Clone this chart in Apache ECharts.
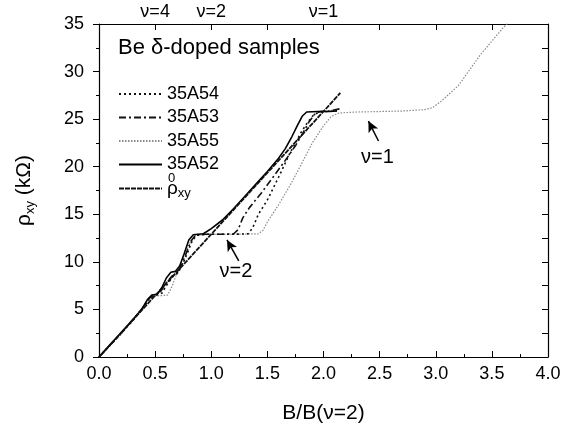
<!DOCTYPE html>
<html>
<head>
<meta charset="utf-8">
<script src="https://cdn.jsdelivr.net/npm/echarts@6/dist/echarts.min.js"></script>
<style>html,body{margin:0;padding:0;background:#fff}#c{width:569px;height:429px}</style>
</head>
<body>
<div id="c"></div>
<script>
// ---- data (B/B(nu=2), rho_xy in kOhm) ----
const s35A54 = [[0,0],[0.15,1.9],[0.3,3.8],[0.4,5.3],[0.45,6.2],[0.5,6.45],[0.56,6.7],[0.6,7.5],[0.66,8.5],[0.7,8.8],[0.74,9.6],[0.79,11.0],[0.83,12.2],[0.87,12.8],[0.95,12.9],[1.2,12.9],[1.33,12.95],[1.37,13.6],[1.42,15.0],[1.5,16.5],[1.6,18.9],[1.7,21.4],[1.8,23.6],[1.86,24.7],[1.91,25.4],[1.96,25.75],[2.03,25.8],[2.12,25.9]];
const s35A53 = [[0,0],[0.15,1.9],[0.3,3.9],[0.4,5.3],[0.45,6.2],[0.5,6.5],[0.55,6.9],[0.6,7.8],[0.65,8.5],[0.7,8.9],[0.74,9.8],[0.78,11.0],[0.82,12.2],[0.86,12.8],[0.95,12.9],[1.1,12.9],[1.2,12.95],[1.24,13.4],[1.28,14.6],[1.34,15.7],[1.45,17.3],[1.55,18.9],[1.65,20.5],[1.75,22.2],[1.82,23.6],[1.87,24.7],[1.92,25.5],[1.97,25.8],[2.05,25.85],[2.15,26.1]];
const s35A55 = [[0,0],[0.2,2.4],[0.4,5.4],[0.46,6.4],[0.55,6.45],[0.61,6.5],[0.65,7.4],[0.7,9.0],[0.76,10.7],[0.81,12.0],[0.86,12.8],[1.0,12.9],[1.2,12.9],[1.42,12.95],[1.46,13.3],[1.5,14.2],[1.6,16.0],[1.7,18.0],[1.8,20.2],[1.9,22.5],[2.0,24.3],[2.07,25.3],[2.14,25.65],[2.3,25.75],[2.5,25.8],[2.7,25.85],[2.9,26.0],[2.97,26.2],[3.05,26.9],[3.2,28.5],[3.4,31.8],[3.6,34.6],[3.66,35.3]];
const s35A52 = [[0,0],[0.1,1.3],[0.2,2.6],[0.3,3.9],[0.38,5.0],[0.43,6.0],[0.47,6.5],[0.52,6.6],[0.56,7.3],[0.6,8.3],[0.64,8.9],[0.68,9.0],[0.72,9.6],[0.76,10.9],[0.8,12.3],[0.84,12.85],[0.88,12.9],[0.93,12.95],[1.0,13.5],[1.1,14.4],[1.2,15.6],[1.3,16.9],[1.4,18.2],[1.5,19.5],[1.6,20.9],[1.66,21.9],[1.72,23.2],[1.77,24.4],[1.81,25.3],[1.85,25.75],[1.95,25.8],[2.05,25.8],[2.12,25.85]];
const rho0 = [[0,0],[2.15,27.75]];
const seriesNames = ['35A54','35A53','35A55','35A52','rho0'];
const topTickValues = [0.5, 1, 2];
const topTickTexts = ['ν=4','ν=2','ν=1'];
const annotations = [
  {text:'ν=2', at:[1.22,9.0], from:[1.245,10.1], to:[1.14,12.3]},
  {text:'ν=1', at:[2.48,21.0], from:[2.49,22.7], to:[2.40,24.8]}
];

const FONT = 'Liberation Sans, Arial, sans-serif';
const chart = echarts.init(document.getElementById('c'));
const black = '#000';
function line(name, data, color, width, type, z){
  return {name, type:'line', data, symbol:'none', showSymbol:false, z,
    lineStyle:{color, width, type}, itemStyle:{color}, emphasis:{disabled:true}};
}
const axLine = {show:true, onZero:false, lineStyle:{color:black, width:1.2}};
const option = {
  animation:false,
  textStyle:{fontFamily:FONT},
  grid:{left:99, top:24, width:449, height:334},
  xAxis:[
    {type:'value', min:0, max:4, interval:0.5, position:'bottom',
      axisLine:axLine, splitLine:{show:false},
      axisTick:{show:true, inside:true, length:6, lineStyle:{color:black}},
      minorTick:{show:true, splitNumber:2, length:3, lineStyle:{color:black}},
      axisLabel:{color:black, fontSize:18, margin:8, fontFamily:FONT, formatter:v=>v.toFixed(1)},
      name:'B/B(ν=2)', nameLocation:'middle', nameGap:46,
      nameTextStyle:{fontSize:21, color:black, fontFamily:FONT}},
    {type:'value', min:0, max:4, interval:0.5, position:'top',
      axisLine:axLine, splitLine:{show:false},
      axisTick:{show:true, inside:true, length:6, lineStyle:{color:black}},
      axisLabel:{color:black, fontSize:18, margin:3, fontFamily:FONT,
        formatter:v=>{const i=topTickValues.findIndex(t=>Math.abs(t-v)<1e-6); return i>=0?topTickTexts[i]:'';}}}
  ],
  yAxis:[
    {type:'value', min:0, max:35, interval:5, position:'left',
      axisLine:axLine, splitLine:{show:false},
      axisTick:{show:true, inside:false, length:6, lineStyle:{color:black}},
      minorTick:{show:true, splitNumber:2, length:3, lineStyle:{color:black}},
      axisLabel:{color:black, fontSize:18, margin:15, fontFamily:FONT},
      name:'{a|ρ}{b|xy}{a| (kΩ)}', nameLocation:'middle', nameGap:62, nameRotate:90,
      nameTextStyle:{color:black, rich:{
        a:{fontSize:21, fontFamily:FONT, color:black, lineHeight:26},
        b:{fontSize:13, fontFamily:FONT, color:black, lineHeight:13, verticalAlign:'bottom'}}}},
    {type:'value', min:0, max:35, interval:2.5, position:'right',
      axisLine:axLine, splitLine:{show:false},
      axisTick:{show:true, inside:true, length:6, lineStyle:{color:black}},
      axisLabel:{show:false}}
  ],
  legend:{
    data:seriesNames, orient:'vertical', left:113, top:80,
    itemWidth:43, itemHeight:14, itemGap:5.5,
    itemStyle:{opacity:0},
    textStyle:{fontSize:18, color:black, fontFamily:FONT,
      rich:{r:{fontSize:19, fontFamily:FONT, color:black, lineHeight:22},
            s:{fontSize:13, fontFamily:FONT, color:black, lineHeight:13, verticalAlign:'bottom'}}},
    formatter:n=> n==='rho0' ? '{r|ρ}{s|xy}' : n,
    selectedMode:false
  },
  series:[
    line('35A55', s35A55, '#8a8a8a', 1.2, [1.5,1.5], 1),
    line('35A54', s35A54, '#111', 1.6, [2,3], 2),
    line('35A53', s35A53, '#111', 1.6, [7,3,2,3], 3),
    line('35A52', s35A52, '#000', 1.6, 'solid', 4),
    Object.assign(line('rho0', rho0, '#111', 1.8, [5,1], 5), {
      markLine:{silent:true, symbol:['none','arrow'], symbolSize:[8,11],
        lineStyle:{color:black, width:1.5, type:'solid'}, label:{show:false},
        data: annotations.map(a=>[{coord:a.from},{coord:a.to}])}
    })
  ]
};
chart.setOption(option);
const g = [{type:'text', left:118, top:37, style:{text:'Be δ-doped samples', font:'22px '+FONT, fill:black}}];
annotations.forEach(a=>{
  const p = chart.convertToPixel({xAxisIndex:0, yAxisIndex:0}, a.at);
  g.push({type:'text', x:p[0], y:p[1], style:{text:a.text, font:'20px '+FONT, fill:black, align:'center', verticalAlign:'middle'}});
});
// superscript 0 of rho_xy^0 in legend
g.push({type:'text', left:168, top:172, style:{text:'0', font:'13px '+FONT, fill:black}});
chart.setOption({graphic:g});
</script>
</body>
</html>
